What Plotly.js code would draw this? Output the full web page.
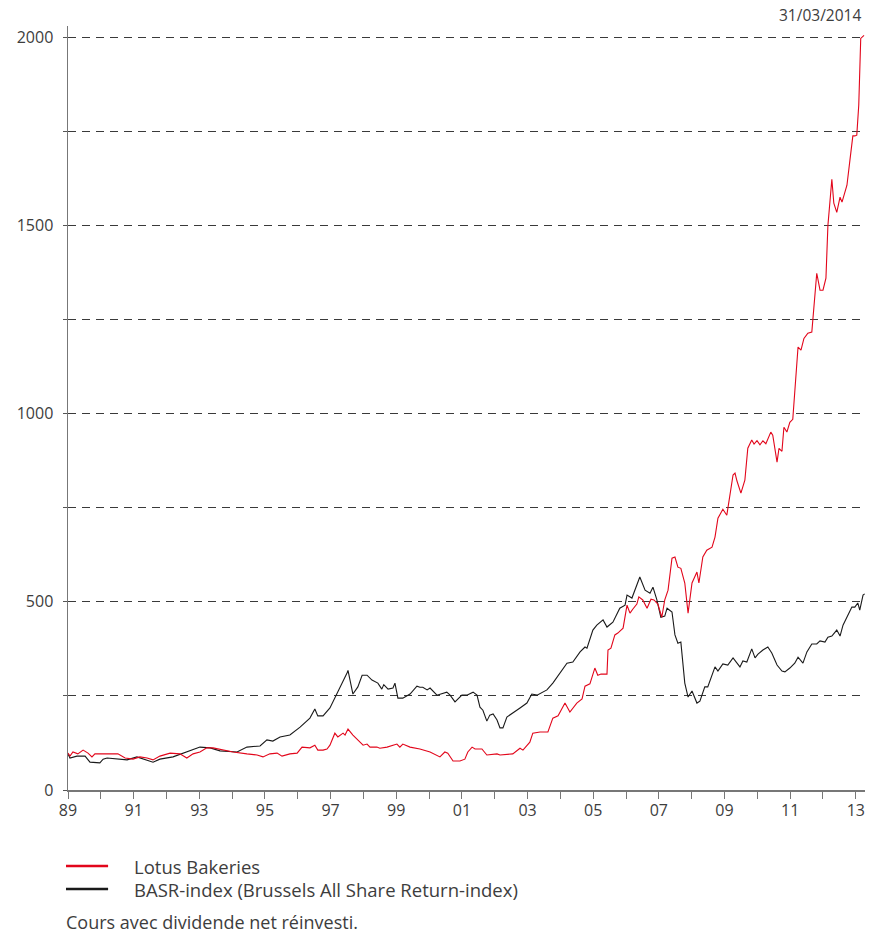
<!DOCTYPE html>
<html>
<head>
<meta charset="utf-8">
<script src="https://cdn.plot.ly/plotly-3.0.1.min.js"></script>
<style>
  html, body { margin: 0; padding: 0; background: #ffffff; }
  #chart { width: 869px; height: 934px; }
</style>
</head>
<body>
<div id="chart"></div>
<script>
// ---- Data (decimal years, index values) ----
const basrYears = [1989.00,1989.06,1989.27,1989.52,1989.67,1989.97,1990.07,1990.19,1990.80,1991.10,1991.59,1991.80,1992.20,1992.62,1993.02,1993.33,1993.63,1994.15,1994.45,1994.85,1995.06,1995.24,1995.46,1995.76,1996.07,1996.37,1996.52,1996.61,1996.77,1996.98,1997.29,1997.50,1997.53,1997.68,1997.83,1997.96,1998.11,1998.26,1998.44,1998.56,1998.62,1998.75,1998.90,1998.96,1999.05,1999.20,1999.42,1999.63,1999.72,1999.81,1999.94,2000.03,2000.24,2000.54,2000.64,2000.79,2001.00,2001.15,2001.34,2001.46,2001.55,2001.64,2001.76,2001.85,2001.95,2002.07,2002.16,2002.25,2002.37,2002.55,2002.77,2002.98,2003.13,2003.29,2003.59,2003.77,2004.20,2004.38,2004.60,2004.75,2004.81,2004.99,2005.11,2005.30,2005.42,2005.60,2005.81,2005.97,2006.03,2006.18,2006.42,2006.58,2006.73,2006.82,2006.94,2007.06,2007.18,2007.25,2007.40,2007.49,2007.58,2007.67,2007.79,2007.89,2008.01,2008.16,2008.25,2008.40,2008.49,2008.71,2008.80,2008.95,2009.10,2009.26,2009.47,2009.56,2009.68,2009.83,2009.93,2010.02,2010.17,2010.32,2010.44,2010.60,2010.75,2010.84,2010.99,2011.14,2011.24,2011.39,2011.51,2011.66,2011.81,2011.91,2012.06,2012.15,2012.27,2012.42,2012.52,2012.61,2012.76,2012.88,2012.97,2013.06,2013.12,2013.22,2013.27];
const basrValues = [96,85,90,90,74,72,82,85,80,88,74,82,88,101,114,112,104,101,114,117,133,130,141,146,167,191,215,197,197,218,271,311,318,255,274,305,305,292,284,268,280,268,271,284,244,244,255,276,273,273,266,271,252,260,252,234,252,252,260,252,220,212,183,199,202,186,165,165,194,204,218,231,255,252,266,284,337,340,367,380,377,425,438,452,433,446,483,491,518,510,566,531,523,539,505,459,462,483,473,412,390,393,284,247,263,231,236,274,274,327,316,335,332,351,327,343,340,375,351,361,372,380,364,332,316,314,324,337,353,337,367,388,388,396,393,406,409,425,409,438,465,486,486,497,478,518,521];

const lotusYears = [1989.00,1989.06,1989.15,1989.30,1989.46,1989.61,1989.73,1989.82,1990.07,1990.37,1990.52,1990.74,1990.98,1991.19,1991.41,1991.59,1991.80,1992.11,1992.41,1992.62,1992.81,1993.02,1993.23,1993.42,1993.72,1994.03,1994.45,1994.76,1994.94,1995.15,1995.37,1995.52,1995.76,1995.98,1996.13,1996.37,1996.52,1996.61,1996.77,1996.89,1996.98,1997.13,1997.22,1997.38,1997.44,1997.53,1997.68,1997.80,1997.99,1998.11,1998.20,1998.41,1998.50,1998.72,1999.02,1999.11,1999.20,1999.42,1999.72,2000.03,2000.33,2000.48,2000.57,2000.73,2000.94,2001.09,2001.18,2001.31,2001.40,2001.61,2001.76,2002.07,2002.16,2002.55,2002.77,2002.86,2003.07,2003.16,2003.38,2003.62,2003.77,2003.93,2004.14,2004.29,2004.50,2004.66,2004.75,2004.90,2005.05,2005.14,2005.24,2005.42,2005.45,2005.54,2005.66,2005.75,2005.91,2006.03,2006.12,2006.21,2006.33,2006.39,2006.51,2006.64,2006.76,2006.85,2006.97,2007.09,2007.18,2007.28,2007.40,2007.49,2007.58,2007.67,2007.79,2007.89,2008.01,2008.16,2008.22,2008.34,2008.46,2008.62,2008.71,2008.80,2008.95,2009.07,2009.16,2009.26,2009.32,2009.38,2009.50,2009.62,2009.71,2009.83,2009.90,2009.99,2010.08,2010.17,2010.26,2010.41,2010.47,2010.60,2010.66,2010.75,2010.81,2010.90,2010.99,2011.08,2011.24,2011.33,2011.42,2011.54,2011.66,2011.69,2011.81,2011.91,2012.00,2012.09,2012.15,2012.27,2012.33,2012.42,2012.52,2012.58,2012.73,2012.82,2012.91,2012.97,2013.03,2013.09,2013.15,2013.25];
const lotusValues = [98,90,101,96,106,98,88,96,96,96,96,85,82,88,85,80,90,98,96,85,96,101,112,112,106,101,96,93,88,96,98,90,96,98,114,112,119,106,106,109,119,151,141,151,146,162,146,135,119,122,114,114,111,114,122,114,122,114,109,101,88,101,98,77,77,82,101,114,109,109,93,96,93,96,111,106,127,151,154,154,191,197,231,207,231,242,276,282,324,305,308,308,372,377,412,417,430,491,470,481,494,513,505,483,507,505,494,459,505,531,616,619,592,589,550,470,550,579,550,619,637,645,672,722,746,730,778,837,842,821,789,823,908,930,919,928,917,928,920,951,943,871,908,900,964,951,977,985,1177,1169,1200,1214,1217,1248,1373,1328,1328,1360,1500,1623,1559,1535,1575,1562,1607,1673,1738,1738,1740,1820,1997,2005];

const yearTicks = [1989,1990,1991,1992,1993,1994,1995,1996,1997,1998,1999,2000,2001,2002,2003,2004,2005,2006,2007,2008,2009,2010,2011,2012,2013];
const yearLabels = ['89','','91','','93','','95','','97','','99','','01','','03','','05','','07','','09','','11','','13'];
const valueTicks = [0,250,500,750,1000,1250,1500,1750,2000];
const valueLabels = ['0','','500','','1000','','1500','','2000'];

const seriesNames = ['Lotus Bakeries', 'BASR-index (Brussels All Share Return-index)'];
const dateLabel = '31/03/2014';
const footnote = 'Cours avec dividende net réinvesti.';

const RED = '#e2061b';
const BLACK = '#1a1a1a';
const FONT = '"Open Sans", "Liberation Sans", Arial, sans-serif';
const TXT = '#3d3d3d';

const traces = [
  { x: basrYears, y: basrValues, type: 'scatter', mode: 'lines', name: seriesNames[1],
    line: { color: BLACK, width: 1.1 }, showlegend: false, hoverinfo: 'skip' },
  { x: lotusYears, y: lotusValues, type: 'scatter', mode: 'lines', name: seriesNames[0],
    line: { color: RED, width: 1.1 }, showlegend: false, hoverinfo: 'skip' }
];

const layout = {
  width: 869, height: 934,
  margin: { l: 68, r: 4, t: 26, b: 144 },
  paper_bgcolor: '#ffffff', plot_bgcolor: '#ffffff',
  font: { family: FONT, size: 16, color: TXT },
  showlegend: false,
  xaxis: {
    range: [1989, 2013.28], tickmode: 'array', tickvals: yearTicks, ticktext: yearLabels,
    ticks: 'outside', ticklen: 7, tickwidth: 1, tickcolor: '#777',
    showline: true, linecolor: '#777', linewidth: 1.5,
    showgrid: false, zeroline: false, fixedrange: true, ticklabelstandoff: -2,
    tickfont: { family: FONT, size: 16, color: TXT }
  },
  yaxis: {
    range: [0, 2030], tickmode: 'array', tickvals: valueTicks, ticktext: valueLabels,
    ticks: 'outside', ticklen: 4, tickwidth: 1, tickcolor: '#555',
    showline: true, linecolor: '#777', linewidth: 1.5,
    showgrid: true, gridcolor: '#3a3a3a', gridwidth: 1, griddash: '8px,6px',
    zeroline: false, fixedrange: true, ticklabelstandoff: 6,
    tickfont: { family: FONT, size: 16, color: TXT }
  },
  shapes: [
    { type: 'line', xref: 'paper', yref: 'paper', x0: -0.0025, x1: 0.0503, y0: -0.0995, y1: -0.0995,
      line: { color: RED, width: 2.5 } },
    { type: 'line', xref: 'paper', yref: 'paper', x0: -0.0025, x1: 0.0503, y0: -0.1296, y1: -0.1296,
      line: { color: BLACK, width: 2.5 } }
  ],
  annotations: [
    { xref: 'paper', yref: 'paper', x: 0.9975, y: 1.0144, xanchor: 'right', yanchor: 'middle',
      text: dateLabel, showarrow: false, font: { family: FONT, size: 15.5, color: TXT } },
    { xref: 'paper', yref: 'paper', x: 0.0803, y: -0.0995, xanchor: 'left', yanchor: 'middle',
      text: seriesNames[0], showarrow: false, font: { family: FONT, size: 18.5, color: TXT } },
    { xref: 'paper', yref: 'paper', x: 0.0803, y: -0.1296, xanchor: 'left', yanchor: 'middle',
      text: seriesNames[1], showarrow: false, font: { family: FONT, size: 18.5, color: TXT } },
    { xref: 'paper', yref: 'paper', x: -0.005, y: -0.1728, xanchor: 'left', yanchor: 'middle',
      text: footnote, showarrow: false, font: { family: FONT, size: 18, color: TXT } }
  ]
};

Plotly.newPlot('chart', traces, layout, { displayModeBar: false, staticPlot: true });
</script>
</body>
</html>
